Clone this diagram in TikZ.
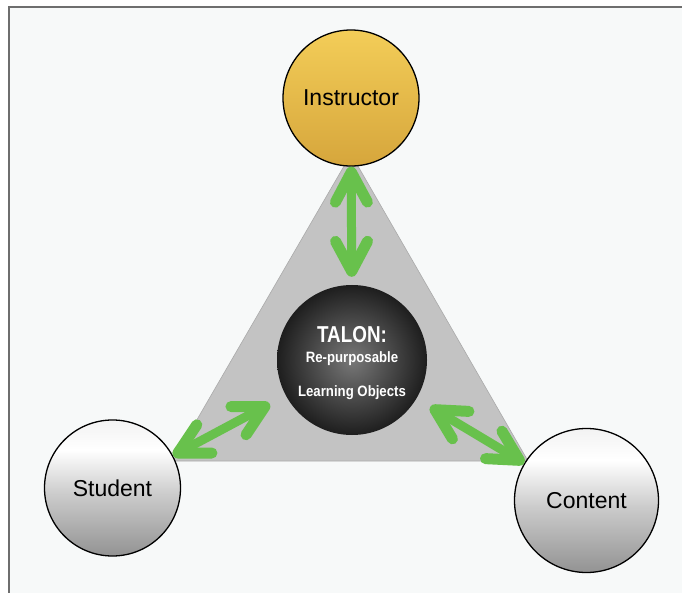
\documentclass[tikz,border=0pt]{standalone}
\usepackage{fontspec}
\setmainfont{Liberation Sans}
\usetikzlibrary{arrows.meta}
\definecolor{bgin}{RGB}{247,249,249}
\definecolor{framec}{RGB}{110,110,110}
\definecolor{trigray}{RGB}{195,195,195}
\definecolor{trigedge}{RGB}{170,170,170}
\definecolor{arrowgreen}{RGB}{104,193,76}
\definecolor{goldtop}{RGB}{243,205,88}
\definecolor{goldbot}{RGB}{214,166,60}
\definecolor{talonin}{RGB}{120,120,120}
\definecolor{talonout}{RGB}{30,30,30}
\pgfdeclareverticalshading{silver}{100bp}{color(0bp)=(gray!85); color(25bp)=(gray!85); color(48bp)=(gray!40); color(64bp)=(white); color(75bp)=(gray!10); color(100bp)=(gray!10)}
\tikzset{
  circnode/.style={circle, draw=black, line width=1.3pt, inner sep=0pt,
    font=\fontsize{23}{27}\selectfont},
  silvernode/.style={circnode, shading=silver},
  garrowtip/.tip={Straight Barb[length=30pt, width=32pt, line width=11pt, round]},
  garrow/.style={draw=arrowgreen, line width=9pt, line cap=round, garrowtip-garrowtip},
  talontext/.style={text=white, inner sep=0pt}
}
\begin{document}
\begin{tikzpicture}[x=1pt, y=-1pt]
\useasboundingbox (0,0) rectangle (682,593);
\fill[white] (0,0) rectangle (682,593);
\fill[bgin] (9,7) rectangle (682,593);
\draw[framec, line width=1.5pt] (9,593) -- (9,7) -- (682,7);
% triangle
\coordinate (tA) at (351,154);
\coordinate (tB) at (173,461);
\coordinate (tC) at (528,461);
\fill[trigray, draw=trigedge, line width=0.6pt] (tA) -- (tB) -- (tC) -- cycle;
% nodes
\node[circnode, minimum size=136pt, top color=goldtop, bottom color=goldbot] (instr) at (351,98) {Instructor};
\node[silvernode, minimum size=136pt] (stud) at (112.5,488) {Student};
\node[silvernode, minimum size=144pt] (cont) at (586.5,500.5) {Content};
\node[circle, minimum size=150pt, inner sep=0pt, shading=radial, inner color=talonin, outer color=talonout] (talon) at (352,360) {};
\node[talontext, font=\bfseries\fontsize{23}{26}\selectfont] (t1) at (352,335) {\scalebox{0.82}[1]{TALON:}};
\node[talontext, font=\bfseries\fontsize{15}{17}\selectfont] (t2) at (352,359) {\scalebox{0.88}[1]{Re-purposable}};
\node[talontext, font=\bfseries\fontsize{15}{17}\selectfont] (t3) at (352,393) {\scalebox{0.88}[1]{Learning Objects}};
% arrows
\draw[garrow, shorten >=8pt] (instr) -- (talon);
\draw[garrow, shorten >=18pt] (stud) -- (talon);
\draw[garrow, shorten >=16pt] (cont) -- (talon);
\end{tikzpicture}
\end{document}
